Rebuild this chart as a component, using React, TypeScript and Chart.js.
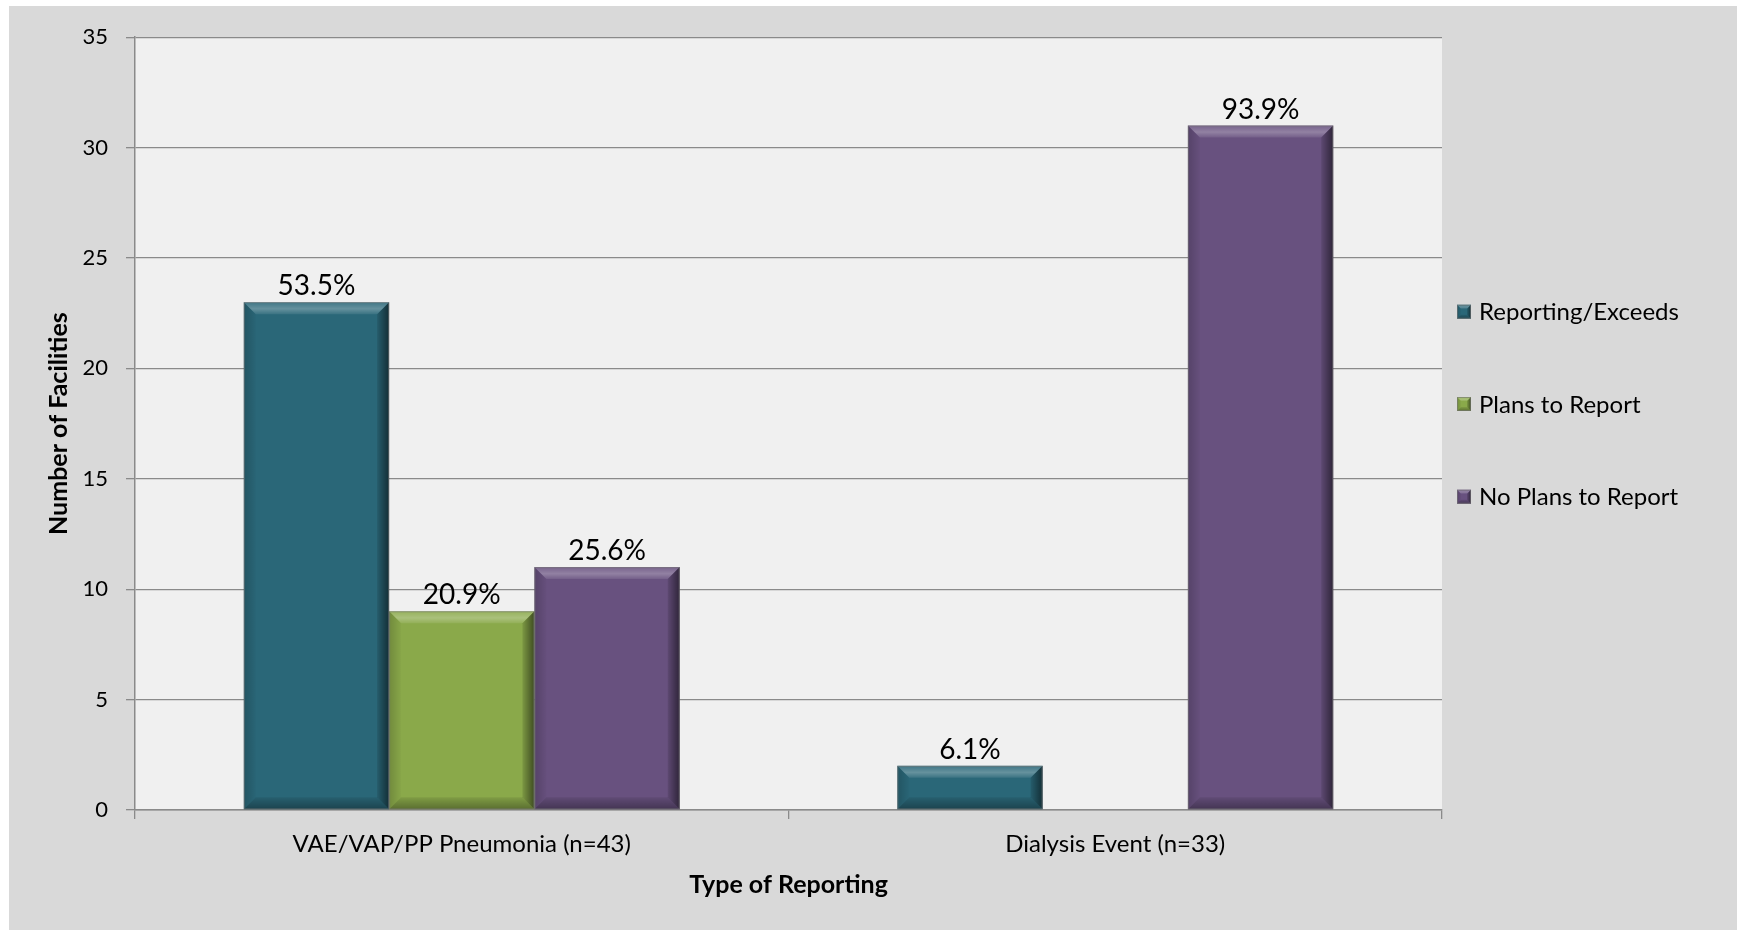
import React, { useEffect, useRef } from "react";
import { Chart, registerables } from "chart.js";

Chart.register(...registerables);

const categories = ["VAE/VAP/PP Pneumonia (n=43)", "Dialysis Event (n=33)"];
const seriesNames = ["Reporting/Exceeds", "Plans to Report", "No Plans to Report"];
const reportingExceeds = [23, 2];
const plansToReport = [9, 0];
const noPlansToReport = [11, 31];
const reportingExceedsPct = ["53.5%", "6.1%"];
const plansToReportPct = ["20.9%", ""];
const noPlansToReportPct = ["25.6%", "93.9%"];
const seriesColors = ["#2a6778", "#8aa94a", "#68517f"];
const yMin = 0;
const yMax = 35;
const yStep = 5;
const xTitle = "Type of Reporting";
const yTitle = "Number of Facilities";

const FONT = "Lato, 'Open Sans', sans-serif";

function shade(ctx: CanvasRenderingContext2D, pts: number[][], style: string | CanvasGradient) {
  ctx.beginPath();
  ctx.moveTo(pts[0][0], pts[0][1]);
  for (let i = 1; i < pts.length; i++) ctx.lineTo(pts[i][0], pts[i][1]);
  ctx.closePath();
  ctx.fillStyle = style;
  ctx.fill();
}

function bevel(ctx: CanvasRenderingContext2D, L: number, T: number, R: number, B: number, b: number) {
  const gTop = ctx.createLinearGradient(0, T, 0, T + b);
  gTop.addColorStop(0, "rgba(255,255,255,0.10)");
  gTop.addColorStop(0.55, "rgba(255,255,255,0.28)");
  gTop.addColorStop(1, "rgba(255,255,255,0.08)");
  shade(ctx, [[L, T], [R, T], [R - b, T + b], [L + b, T + b]], gTop);
  const gR = ctx.createLinearGradient(R - b, 0, R, 0);
  gR.addColorStop(0, "rgba(0,0,0,0.10)");
  gR.addColorStop(1, "rgba(0,0,0,0.55)");
  shade(ctx, [[R, T], [R, B], [R - b, B - b], [R - b, T + b]], gR);
  const gB = ctx.createLinearGradient(0, B - b, 0, B);
  gB.addColorStop(0, "rgba(0,0,0,0.08)");
  gB.addColorStop(1, "rgba(0,0,0,0.35)");
  shade(ctx, [[L, B], [R, B], [R - b, B - b], [L + b, B - b]], gB);
  const gL = ctx.createLinearGradient(L, 0, L + b, 0);
  gL.addColorStop(0, "rgba(0,0,0,0.18)");
  gL.addColorStop(1, "rgba(0,0,0,0.02)");
  shade(ctx, [[L, T], [L + b, T + b], [L + b, B - b], [L, B]], gL);
  ctx.strokeStyle = "rgba(120,120,120,0.6)";
  ctx.lineWidth = 1;
  ctx.strokeRect(L + 0.5, T + 0.5, R - L - 1, B - T - 1);
}

const plotBgPlugin = {
  id: "plotBg",
  beforeDraw(chart: any) {
    const { ctx, chartArea } = chart;
    ctx.save();
    ctx.fillStyle = "#f0f0f0";
    ctx.fillRect(chartArea.left, chartArea.top, chartArea.right - chartArea.left, chartArea.bottom - chartArea.top);
    ctx.restore();
  },
};

const barDecorPlugin = {
  id: "barDecor",
  afterDatasetsDraw(chart: any) {
    const { ctx } = chart;
    ctx.save();
    chart.data.datasets.forEach((ds: any, di: number) => {
      const meta = chart.getDatasetMeta(di);
      meta.data.forEach((el: any, i: number) => {
        const v = ds.data[i];
        if (!v) return;
        const { x, y, base, width } = el.getProps(["x", "y", "base", "width"], true);
        const L = x - width / 2;
        const R = x + width / 2;
        const h = base - y;
        const b = Math.min(12, h / 2, width / 2);
        bevel(ctx, L, y, R, base, b);
      });
    });
    chart.data.datasets.forEach((ds: any, di: number) => {
      const meta = chart.getDatasetMeta(di);
      meta.data.forEach((el: any, i: number) => {
        const lbl = ds.pctLabels[i];
        if (!lbl) return;
        const { x, y } = el.getProps(["x", "y"], true);
        ctx.fillStyle = "#000";
        ctx.font = `28px ${FONT}`;
        ctx.textAlign = "center";
        ctx.textBaseline = "alphabetic";
        ctx.fillText(lbl, x, y - 7);
      });
    });
    ctx.restore();
  },
};

const legendPlugin = {
  id: "sideLegend",
  afterDraw(chart: any) {
    const { ctx, chartArea } = chart;
    const boxX = chartArea.right + 15;
    const textX = boxX + 22;
    const ys = [305.7, 398, 490.7];
    ctx.save();
    chart.data.datasets.forEach((ds: any, i: number) => {
      const cy = ys[i];
      const s = 14;
      ctx.fillStyle = ds.backgroundColor;
      ctx.fillRect(boxX, cy - s / 2, s, s);
      bevel(ctx, boxX, cy - s / 2, boxX + s, cy + s / 2, 4);
      ctx.fillStyle = "#000";
      ctx.font = `24px ${FONT}`;
      ctx.textAlign = "left";
      ctx.textBaseline = "middle";
      ctx.fillText(ds.label, textX, cy + 1);
    });
    ctx.restore();
  },
};

export default function App() {
  const ref = useRef<HTMLCanvasElement | null>(null);
  useEffect(() => {
    if (!ref.current) return;
    Chart.defaults.font.family = FONT;
    const chart = new Chart(ref.current, {
      type: "bar",
      data: {
        labels: categories,
        datasets: [
          { label: seriesNames[0], data: reportingExceeds, backgroundColor: seriesColors[0], pctLabels: reportingExceedsPct } as any,
          { label: seriesNames[1], data: plansToReport, backgroundColor: seriesColors[1], pctLabels: plansToReportPct } as any,
          { label: seriesNames[2], data: noPlansToReport, backgroundColor: seriesColors[2], pctLabels: noPlansToReportPct } as any,
        ],
      },
      options: {
        animation: false,
        responsive: true,
        maintainAspectRatio: false,
        datasets: { bar: { categoryPercentage: 0.667, barPercentage: 1.0, borderWidth: 0 } },
        layout: { padding: { top: 29, right: 295, left: 0, bottom: 0 } },
        plugins: { legend: { display: false }, tooltip: { enabled: false } },
        scales: {
          x: {
            offset: true,
            grid: { offset: true, drawOnChartArea: false, drawTicks: true, tickLength: 9, color: "#8a8a8a", lineWidth: 1.3 },
            border: { display: true, color: "#8a8a8a", width: 1.5 },
            ticks: { color: "#000", font: { size: 24, family: FONT }, padding: 11, maxRotation: 0 },
            title: { display: true, text: xTitle, color: "#000", font: { size: 25, weight: "bold", family: FONT }, padding: { top: 0, bottom: 30 } },
            afterFit: (s: any) => { s.height = 120; },
          },
          y: {
            min: yMin,
            max: yMax,
            ticks: { stepSize: yStep, color: "#000", font: { size: 22, family: FONT }, padding: 18 },
            grid: { color: "#8a8a8a", lineWidth: 1.3, tickLength: 9 },
            border: { display: true, color: "#8a8a8a", width: 1.5 },
            title: { display: true, text: yTitle, color: "#000", font: { size: 25, weight: "bold", family: FONT }, padding: { top: 35, bottom: 0 } },
            afterFit: (s: any) => { s.width = 126; },
          },
        },
      } as any,
      plugins: [plotBgPlugin, barDecorPlugin, legendPlugin],
    });
    return () => chart.destroy();
  }, []);
  return (
    <div style={{ position: "fixed", left: 9, top: 6, width: 1728, height: 924, background: "#d9d9d9" }}>
      <canvas ref={ref} />
    </div>
  );
}
